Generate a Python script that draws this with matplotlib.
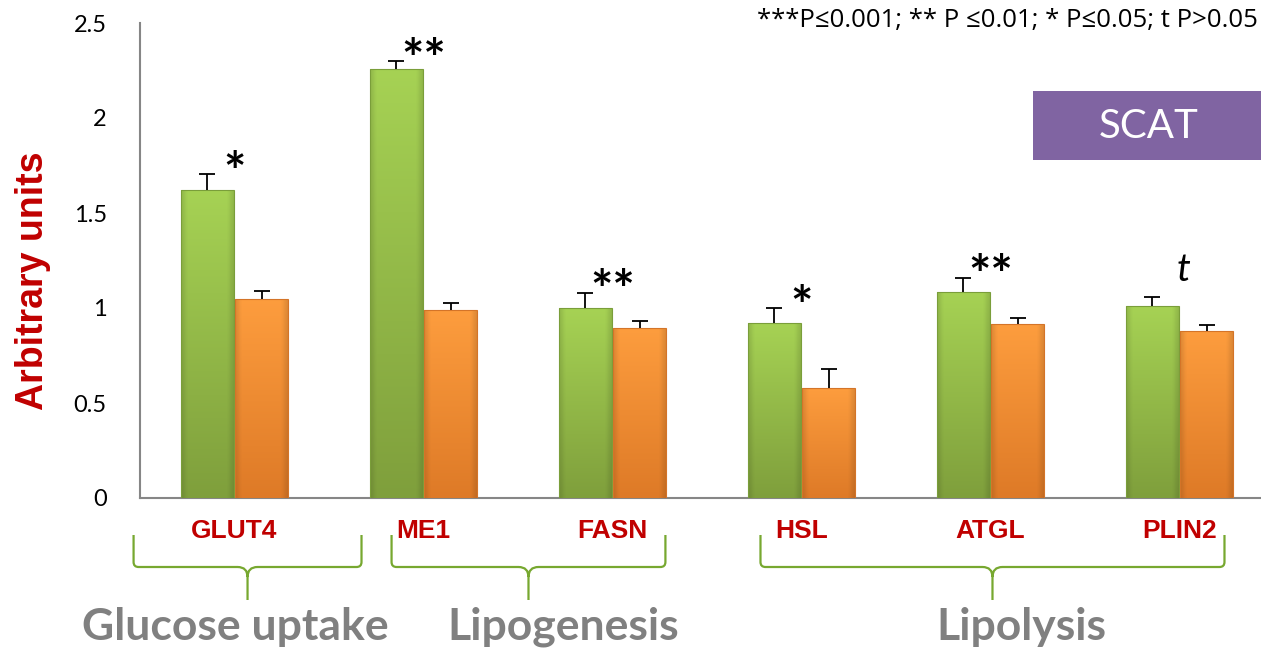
import matplotlib.pyplot as plt
import numpy as np
from matplotlib.path import Path
from matplotlib.patches import PathPatch, Rectangle
from matplotlib.transforms import IdentityTransform
from matplotlib.colors import to_rgb

genes = ['GLUT4', 'ME1', 'FASN', 'HSL', 'ATGL', 'PLIN2']
green_vals = [1.62, 2.26, 1.00, 0.92, 1.085, 1.01]
green_err = [0.085, 0.04, 0.08, 0.08, 0.075, 0.05]
orange_vals = [1.05, 0.99, 0.895, 0.58, 0.915, 0.88]
orange_err = [0.04, 0.035, 0.035, 0.10, 0.035, 0.03]
signif = ['*', '**', '**', '*', '**', 't']
groups = ['Glucose uptake', 'Lipogenesis', 'Lipolysis']
group_span = [(-0.534, 0.672), (0.831, 2.280), (2.783, 5.238)]
group_label_x = [0.005, 1.740, 4.164]
note = '***P≤0.001; ** P ≤0.01; * P≤0.05; t P>0.05'

W, H = 1261, 649
fig = plt.figure(figsize=(W / 100, H / 100), dpi=100)
ax = fig.add_axes([140 / W, 1 - 498 / H, 1 - 140 / W, (498 - 23) / H])

x = np.arange(len(genes))
bw = 0.28
gx = x - bw / 2 - 0.005
ox = x + bw / 2 + 0.005
gbars = ax.bar(gx, green_vals, bw, color='none', edgecolor='#7a9e3a', linewidth=0.8, zorder=4)
obars = ax.bar(ox, orange_vals, bw, color='none', edgecolor='#d47428', linewidth=0.8, zorder=4)

# upper-only error bars ("T" shape)
for xs, vals, errs in [(gx, green_vals, green_err), (ox, orange_vals, orange_err)]:
    tops = np.array(vals) + np.array(errs)
    ax.vlines(xs, vals, tops, color='black', linewidth=1.3, zorder=5)
    ax.scatter(xs, tops, marker='_', s=140, color='black', linewidths=1.3, zorder=5)


def shade(bars, top, bottom):
    t = np.array(to_rgb(top))
    b = np.array(to_rgb(bottom))
    v = np.linspace(0, 1, 100)[:, None, None]
    img = t * (1 - v) + b * v
    hx = np.linspace(0, 1, 40)
    edge = 1 - 0.12 * (np.clip(1 - np.minimum(hx, 1 - hx) / 0.12, 0, 1))
    img = img * edge[None, :, None]
    for p in bars:
        x0, w = p.get_x(), p.get_width()
        h = p.get_height()
        im = ax.imshow(img, extent=[x0, x0 + w, 0, h], origin='upper', aspect='auto', zorder=3)
        im.set_clip_path(p)


shade(gbars, '#a6d254', '#7f9f3c')
shade(obars, '#fd9d3e', '#de7a27')

ax.set_xlim(-0.5, (W - 140) / 189 - 0.5)
ax.set_ylim(0, 2.5)
ax.set_yticks([0, 0.5, 1, 1.5, 2, 2.5])
ax.set_yticklabels(['0', '0.5', '1', '1.5', '2', '2.5'], fontfamily='Lato', fontsize=17)
ax.tick_params(axis='y', length=0, pad=24)
ax.set_xticks([])
for s in ['top', 'right']:
    ax.spines[s].set_visible(False)
for s in ['left', 'bottom']:
    ax.spines[s].set_color('#868686')
    ax.spines[s].set_linewidth(1.5)

fig.text(33 / W, 1 - 281 / H, 'Arbitrary units', color='#c00000', fontsize=27, fontweight='bold',
         fontfamily='Liberation Sans', rotation=90, ha='center', va='center')

# significance marks
for i, s in enumerate(signif):
    top = green_vals[i] + green_err[i]
    if s == 't':
        ax.annotate(s, (i + 0.02, top), xytext=(0, 11), textcoords='offset points', fontsize=28,
                    style='italic', ha='center', va='baseline', fontfamily='Lato')
    else:
        ax.annotate(s, (i, top), xytext=(0, -12), textcoords='offset points', fontsize=38,
                    fontweight='bold', ha='center', va='baseline', fontfamily='Lato')

# gene labels
for i, g in enumerate(genes):
    ax.text(i, -0.175, g, color='#c00000', fontsize=19, fontweight='bold', ha='center', va='center',
            fontfamily='Liberation Sans', clip_on=False)


# curly braces
def brace(x0, x1, ytop, ymid, ybot):
    xm = (x0 + x1) / 2
    r = 5
    verts = [(x0, ytop), (x0, ymid + r), (x0, ymid), (x0 + r, ymid),
             (xm - 10, ymid), (xm, ymid), (xm, ymid - 10), (xm, ybot),
             (xm, ymid - 10), (xm, ymid), (xm + 10, ymid),
             (x1 - r, ymid), (x1, ymid), (x1, ymid + r), (x1, ytop)]
    codes = [Path.MOVETO, Path.LINETO, Path.CURVE3, Path.CURVE3,
             Path.LINETO, Path.CURVE3, Path.CURVE3, Path.LINETO,
             Path.MOVETO, Path.CURVE3, Path.CURVE3,
             Path.LINETO, Path.CURVE3, Path.CURVE3, Path.LINETO]
    fig.add_artist(PathPatch(Path(verts, codes), transform=IdentityTransform(), fill=False,
                             edgecolor='#77a830', linewidth=1.6))


for (a, b), name, lx in zip(group_span, groups, group_label_x):
    px0 = ax.transData.transform((a, 0))[0]
    px1 = ax.transData.transform((b, 0))[0]
    brace(px0, px1, H - 535, H - 567, H - 600)
    ax.text(lx, (498 - 627) / 475, name, color='#808080', fontsize=32, fontweight='bold',
            fontfamily='Lato', ha='center', va='center', transform=ax.get_xaxis_transform(),
            clip_on=False)

fig.text(1258 / W, 1 - 21 / H, note, fontsize=18.5, ha='right', va='center',
         fontfamily=['Open Sans', 'DejaVu Sans'])

fig.add_artist(Rectangle((1033 / W, 1 - 160 / H), (W - 1033) / W, 69 / H, transform=fig.transFigure,
                         facecolor='#8064a2', edgecolor='none'))
fig.text(1149 / W, 1 - 126 / H, 'SCAT', color='white', fontsize=29, fontfamily='Lato',
         ha='center', va='center')

fig.savefig('out.png', dpi=100)
